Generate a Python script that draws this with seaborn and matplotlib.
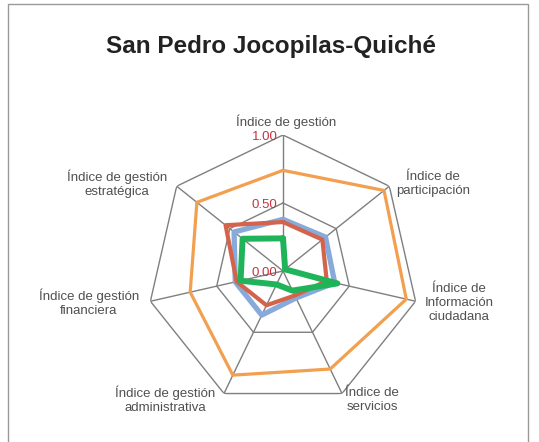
import numpy as np
import pandas as pd
import seaborn as sns
import matplotlib.pyplot as plt
from matplotlib.patches import Rectangle

sns.set_style("white")
plt.rcParams['font.family'] = ['Liberation Sans', 'DejaVu Sans']

# datos
categorias = ["Índice de gestión", "Índice de\nparticipación", "Índice de\nInformación\nciudadana",
              "Índice de\nservicios", "Índice de gestión\nadministrativa",
              "Índice de gestión\nfinanciera", "Índice de gestión\nestratégica"]
serie_naranja = [0.74, 0.95, 0.93, 0.80, 0.85, 0.70, 0.81]
serie_azul = [0.38, 0.40, 0.39, 0.22, 0.36, 0.36, 0.46]
serie_roja = [0.36, 0.37, 0.33, 0.20, 0.28, 0.35, 0.54]
serie_verde = [0.24, 0.02, 0.41, 0.16, 0.11, 0.32, 0.38]
ticks = [0.0, 0.5, 1.0]
tick_labels = ["0.00", "0.50", "1.00"]

n = len(categorias)
ang = np.linspace(0, 2 * np.pi, n, endpoint=False)
ang_c = np.append(ang, 2 * np.pi)

fig = plt.figure(figsize=(5.39, 4.42), dpi=100)
fig.patches.append(Rectangle((8 / 539, -0.05), 520 / 539, 1 - 4 / 442 + 0.05,
                             transform=fig.transFigure, fill=False,
                             edgecolor="#9a9a9a", linewidth=1))

ax = fig.add_axes([147 / 539, 1 - 407 / 442, 272 / 539, 272 / 442], projection="polar")
ax.set_theta_offset(np.pi / 2)
ax.set_theta_direction(-1)
ax.set_ylim(0, 1)
ax.grid(False)
ax.spines["polar"].set_visible(False)
ax.set_xticks([])
ax.set_yticks([])
ax.patch.set_alpha(0)

# rejilla en heptagono
for r in ticks[1:]:
    ax.plot(ang_c, [r] * (n + 1), color="#7f7f7f", lw=1.0, zorder=1)
for a in ang:
    ax.plot([a, a], [0, 1], color="#7f7f7f", lw=1.0, zorder=1)

series = [("naranja", serie_naranja, "#f2a04f", 2.3),
          ("azul", serie_azul, "#88aadb", 3.8),
          ("roja", serie_roja, "#d4634b", 3.0),
          ("verde", serie_verde, "#1fb45a", 4.3)]
for i, (nombre, vals, col, lw) in enumerate(series):
    df = pd.DataFrame({"angulo": ang_c, "valor": vals + vals[:1]})
    sns.lineplot(data=df, x="angulo", y="valor", sort=False, estimator=None,
                 color=col, linewidth=lw, ax=ax, zorder=3 + i)
ax.set_xlabel("")
ax.set_ylabel("")

for t, lab in zip(ticks, tick_labels):
    ax.annotate(lab, xy=(0, t), xytext=(-4, -1.5), textcoords="offset points",
                ha="right", va="center", fontsize=9.5, color="#c8323f", zorder=10)

# etiquetas de categorias (posicion en pixeles del centro)
pos = [(286, 122), (433, 184), (459, 303), (372, 400), (165, 400), (89, 303), (117, 184)]
for lab, (x, y) in zip(categorias, pos):
    fig.text(x / 539, 1 - y / 442, lab, ha="center", va="center", fontsize=9.5,
             color="#505050", linespacing=1.2)

fig.text(271 / 539, 1 - 47 / 442, "San Pedro Jocopilas-Quiché", ha="center", va="center",
         fontsize=17.5, fontweight="bold", color="#222222")

fig.savefig("out.png", dpi=100)
